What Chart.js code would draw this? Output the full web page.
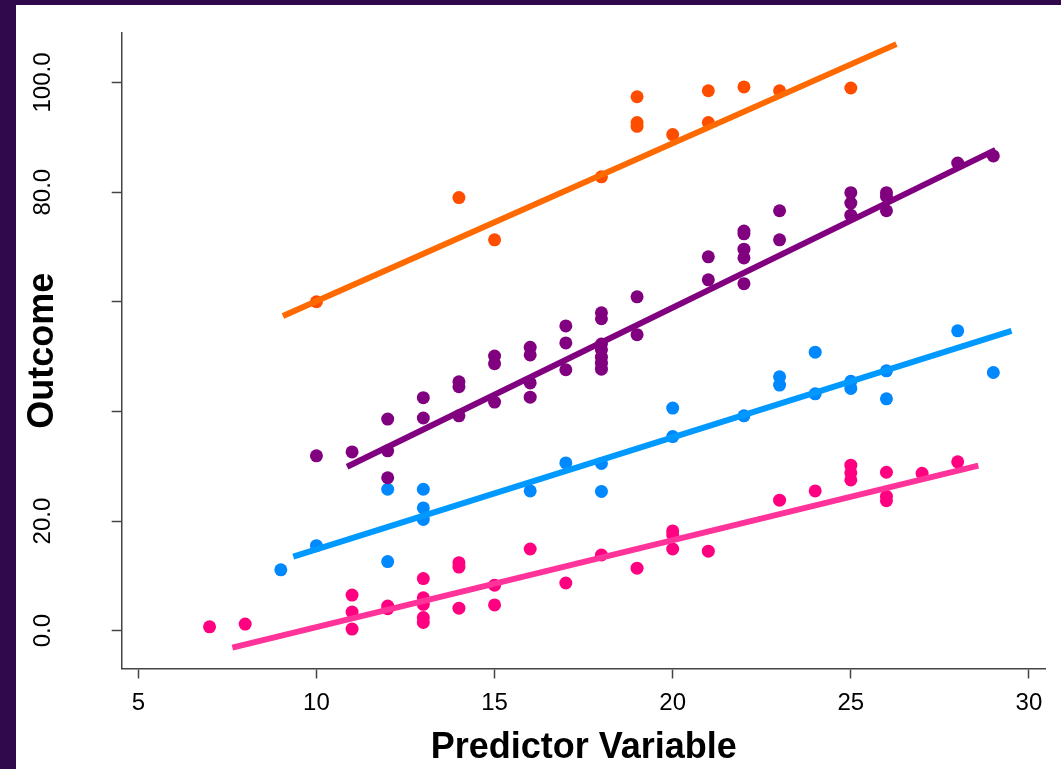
<!DOCTYPE html>
<html>
<head>
<meta charset="utf-8">
<script src="https://cdn.jsdelivr.net/npm/chart.js@4/dist/chart.umd.min.js"></script>
<style>
  html, body { margin: 0; padding: 0; background: #30094d; overflow: hidden; }
  #sheet { position: absolute; left: 16px; top: 5px; right: 0; bottom: 0; background: #fff; }
  #chart { position: absolute; left: 0; top: 0; }
</style>
</head>
<body>
<div id="sheet"></div>
<canvas id="chart" width="1061" height="769"></canvas>
<script>
'use strict';

// scatter groups (x = predictor, y = outcome)
const orangeX = [10, 14, 15, 18, 19, 19, 19, 20, 21, 21, 22, 23, 25];
const orangeY = [60.0, 79.0, 71.3, 82.8, 97.4, 92.7, 92.0, 90.5, 98.5, 92.7, 99.2, 98.5, 99.0];

const purpleX = [10, 11, 12, 12, 12, 13, 13, 14, 14, 14, 15, 15, 15, 16, 16, 16, 16, 17, 17, 17,
  18, 18, 18, 18, 18, 18, 18, 19, 19, 21, 21, 22, 22, 22, 22, 22, 23, 23, 25, 25, 25, 26, 26, 26, 28, 29];
const purpleY = [31.9, 32.6, 38.6, 32.8, 27.9, 42.5, 38.8, 45.4, 44.5, 39.2, 50.1, 48.7, 41.7, 51.7, 50.3, 45.2, 42.6, 55.6, 52.5, 47.6,
  58.0, 56.9, 52.3, 51.2, 49.9, 48.8, 47.7, 60.9, 54.0, 68.2, 64.0, 72.9, 72.4, 69.6, 68.0, 63.3, 76.6, 71.3, 79.9, 78.0, 75.8, 79.9, 79.2, 76.6, 85.3, 86.6];

const blueX = [9, 10, 12, 12, 13, 13, 13, 16, 17, 18, 18, 20, 20, 22, 23, 23, 24, 24, 25, 25, 26, 26, 28, 29];
const blueY = [11.1, 15.5, 25.8, 12.6, 25.8, 22.4, 20.3, 25.5, 30.6, 30.5, 25.4, 40.6, 35.4, 39.2, 46.3, 44.8, 50.8, 43.2, 45.5, 44.2, 47.4, 42.3, 54.7, 47.1];

const pinkX = [7, 8, 11, 11, 11, 12, 12, 13, 13, 13, 13, 13, 14, 14, 14, 15, 15, 16, 17, 18,
  19, 20, 20, 20, 21, 23, 24, 25, 25, 25, 26, 26, 26, 27, 28];
const pinkY = [0.7, 1.2, 6.5, 3.4, 0.3, 4.5, 4.0, 9.5, 6.0, 4.8, 2.4, 1.5, 12.4, 11.6, 4.1, 8.3, 4.7, 14.9, 8.7, 13.8,
  11.4, 18.2, 17.5, 14.9, 14.5, 23.8, 25.5, 30.2, 28.8, 27.5, 28.9, 24.5, 23.7, 28.7, 30.8];

// fitted lines, start and end
const orangeFitX = [9.06, 26.28];
const orangeFitY = [57.4, 107.0];
const purpleFitX = [10.86, 29.06];
const purpleFitY = [29.9, 87.7];
const blueFitX = [9.35, 29.51];
const blueFitY = [13.5, 54.7];
const pinkFitX = [7.64, 28.58];
const pinkFitY = [-3.1, 30.1];

const hiddenYLabels = [40, 60];  // covered by the axis title in the original

const FONT = "'Liberation Sans', Arial, sans-serif";

function pts(xs, ys) {
  return xs.map((x, i) => ({x: x, y: ys[i]}));
}

function dots(xs, ys, color) {
  return {
    type: 'scatter',
    data: pts(xs, ys),
    backgroundColor: color,
    borderWidth: 0,
    pointRadius: 6.5,
    pointHoverRadius: 6.5,
    order: 2
  };
}

function fit(xs, ys, color) {
  return {
    type: 'line',
    data: pts(xs, ys),
    borderColor: color,
    borderWidth: 6,
    pointRadius: 0,
    fill: false,
    order: 1
  };
}

new Chart(document.getElementById('chart'), {
  type: 'scatter',
  data: {
    datasets: [
      dots(orangeX, orangeY, '#ff4d00'),
      dots(purpleX, purpleY, '#800080'),
      dots(blueX, blueY, '#0088ff'),
      dots(pinkX, pinkY, '#ff0080'),
      fit(orangeFitX, orangeFitY, '#ff6a00'),
      fit(purpleFitX, purpleFitY, '#800080'),
      fit(blueFitX, blueFitY, '#0099ff'),
      fit(pinkFitX, pinkFitY, '#ff3399')
    ]
  },
  options: {
    responsive: false,
    animation: false,
    devicePixelRatio: 1,
    layout: {padding: {top: 33, right: 15.3, bottom: 0, left: 0}},
    plugins: {legend: {display: false}, tooltip: {enabled: false}},
    scales: {
      x: {
        type: 'linear',
        min: 4.534,
        max: 30.47,
        border: {display: true, color: '#444', width: 1.5},
        grid: {display: true, drawOnChartArea: false, drawTicks: true, tickLength: 10, color: '#444', tickWidth: 1.5},
        ticks: {
          stepSize: 5,
          includeBounds: false,
          padding: 10.5,
          color: '#000',
          font: {family: FONT, size: 24},
          maxRotation: 0,
          autoSkip: false
        },
        title: {
          display: true,
          text: 'Predictor Variable',
          color: '#000',
          font: {family: FONT, size: 36, weight: 'bold'},
          padding: {top: -1.9, bottom: -0.6}
        }
      },
      y: {
        type: 'linear',
        min: -6.9,
        max: 109.03,
        border: {display: true, color: '#444', width: 1.5},
        grid: {
          display: true, drawOnChartArea: false, drawTicks: true,
          tickLength: 40, color: '#444', tickWidth: 1.5,
          tickBorderDash: [10, 30], tickBorderDashOffset: 10
        },
        ticks: {
          stepSize: 20,
          includeBounds: false,
          padding: 8,
          color: '#000',
          font: {family: FONT, size: 24},
          minRotation: 90,
          maxRotation: 90,
          crossAlign: 'center',
          autoSkip: false,
          callback: (v) => hiddenYLabels.includes(v) ? '' : v.toFixed(1)
        },
        title: {
          display: true,
          text: 'Outcome',
          color: '#000',
          font: {family: FONT, size: 36, weight: 'bold'},
          padding: {top: 21.4, bottom: -27.7}
        }
      }
    }
  }
});
</script>
</body>
</html>
